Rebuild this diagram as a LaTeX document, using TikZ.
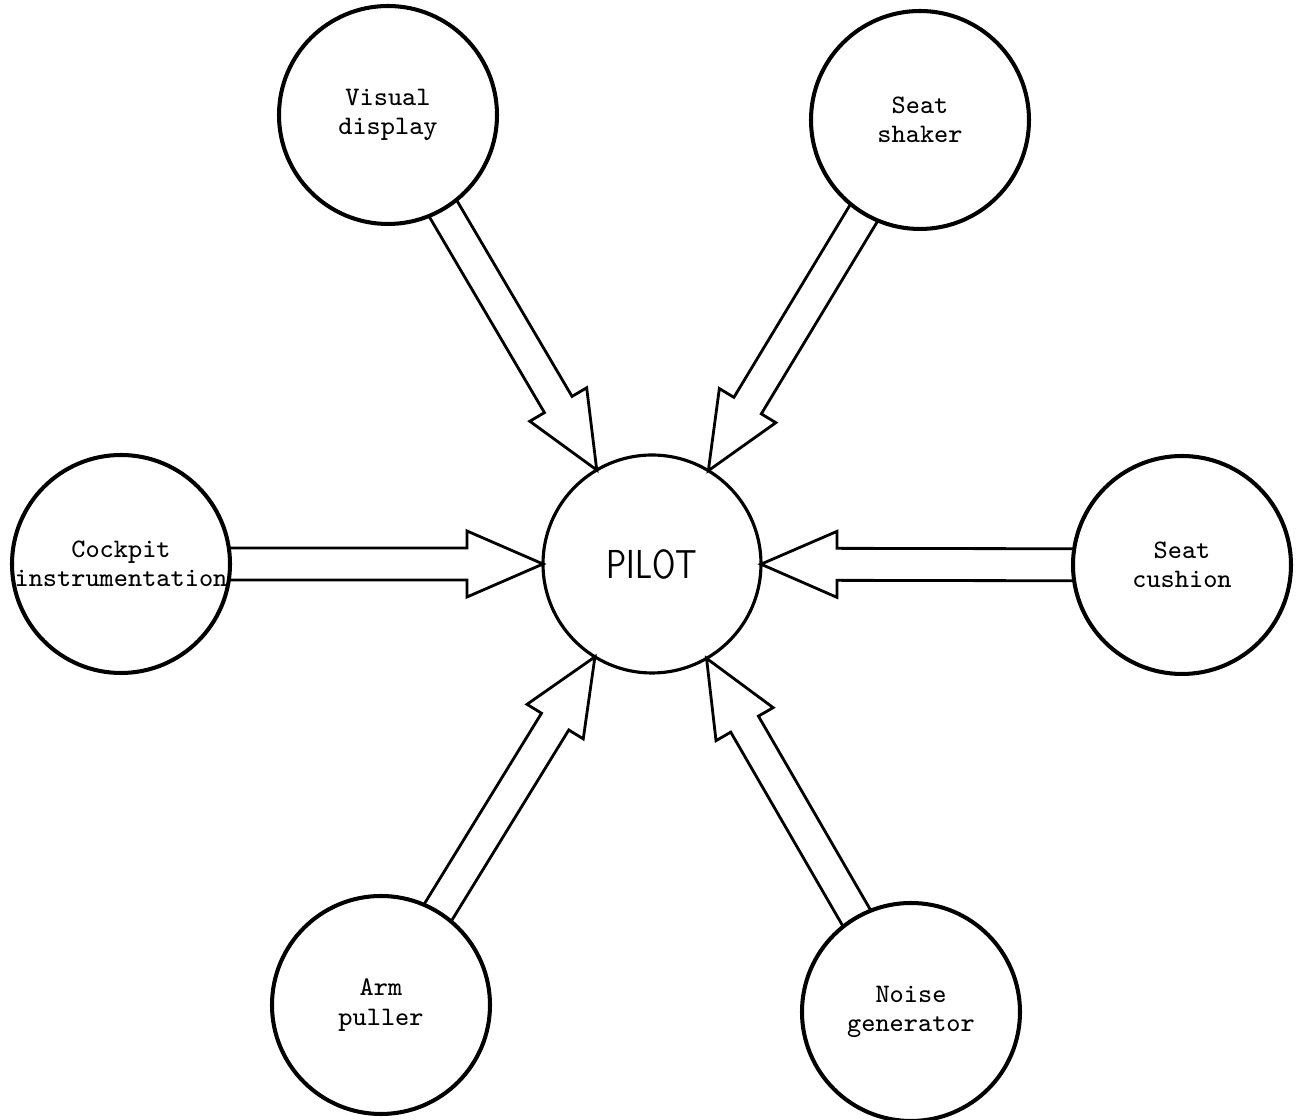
\documentclass[tikz,border=0pt]{standalone}
\usepackage{tikz}
\usetikzlibrary{calc}

\newcommand{\feed}[2]{
  % axis, rim of #1 to rim of #2
  \coordinate (fs) at ($(#1.center)!1.078cm!(#2.center)$);
  \coordinate (ft) at ($(#2.center)!1.09cm!(#1.center)$);
  \coordinate (fh) at ($(ft)!0.76cm!(fs)$);

  % shaft and head
  \draw[feedline] ($(fs)!0.16cm!90:(ft)$) -- ($(fh)!0.16cm!90:(ft)$)
    -- ($(fh)!0.33cm!90:(ft)$) -- (ft) -- ($(fh)!0.33cm!-90:(ft)$)
    -- ($(fh)!0.16cm!-90:(ft)$) -- ($(fs)!0.16cm!-90:(ft)$);
}

\begin{document}
\begin{tikzpicture}[
    unit/.style={circle,draw,line width=1.15pt,minimum size=2.18cm,inner sep=0pt,
      align=center,font=\fontsize{7.6}{8.4}\selectfont\ttfamily},
    pilotunit/.style={unit,line width=0.9pt,font=\fontsize{11.5}{13}\selectfont\sffamily},
    feedline/.style={line width=0.8pt,line join=miter}]
\useasboundingbox (0,0) rectangle (13.01,11.20);

\node[pilotunit] (pilot) at (6.52,5.56) {\scalebox{0.8}[1]{PILOT}};

\node[unit] (visual)  at (3.88,10.05) {Visual\\display};
\node[unit] (shaker)  at (9.20,10.00) {Seat\\shaker};
\node[unit] (cockpit) at (1.21,5.56)  {Cockpit\\instrumentation};
\node[unit] (cushion) at (11.82,5.55) {Seat\\cushion};
\node[unit] (arm)     at (3.81,1.15)  {Arm\\puller};
\node[unit] (noise)   at (9.11,1.08)  {Noise\\generator};

\feed{visual}{pilot}
\feed{shaker}{pilot}
\feed{cockpit}{pilot}
\feed{cushion}{pilot}
\feed{arm}{pilot}
\feed{noise}{pilot}
\end{tikzpicture}
\end{document}
